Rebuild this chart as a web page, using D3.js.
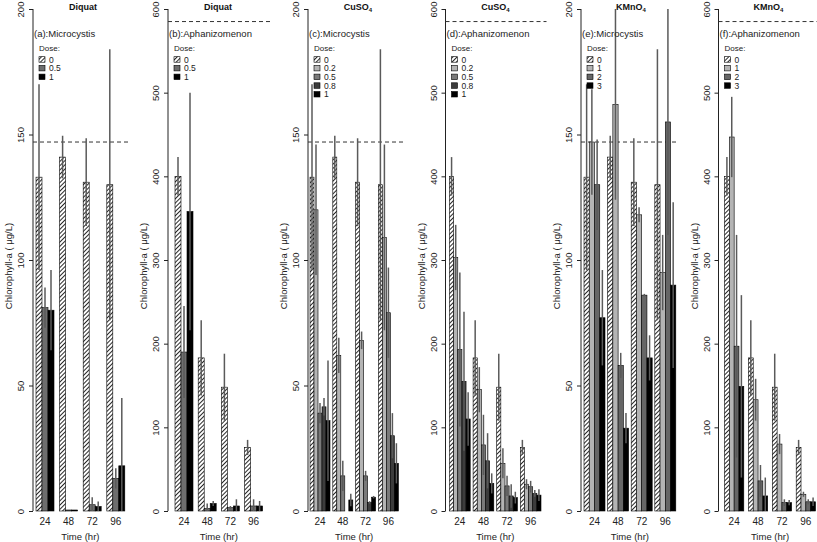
<!DOCTYPE html>
<html><head><meta charset="utf-8">
<script src="https://cdn.jsdelivr.net/npm/d3@7"></script>
<style>
html,body{margin:0;padding:0;background:#fff;}
svg{display:block;font-family:"Liberation Sans",Arial,sans-serif;}
</style></head>
<body>
<svg id="chart" width="817" height="542"></svg>
<script>
// ---------------- DATA ----------------
const times = ["24", "48", "72", "96"];
const dosesDiquat = ["0", "0.5", "1"];
const dosesCuSO4 = ["0", "0.2", "0.5", "0.8", "1"];
const dosesKMnO4 = ["0", "1", "2", "3"];

const microTicks = [0, 50, 100, 150, 200];
const aphTicks = [0, 100, 200, 300, 400, 500, 600];
const microInitial = 147;
const aphInitial = 585;

// rows = doses, columns = times
const diquatMicro = [[133, 141, 131, 130], [81, 0.4, 2.5, 13], [80, 0.4, 1.8, 18]];
const diquatMicroSd = [[37, 8.5, 17.5, 54], [8, 0, 3, 4], [16, 0, 2, 27]];

const diquatAph = [[400, 183, 148, 76], [190, 3, 4, 6], [358, 9, 6, 6]];
const diquatAphSd = [[23, 45, 40, 9], [55, 6, 2, 8], [142, 3, 8, 6]];

const cuMicro = [[133, 141, 131, 130], [120, 62, 68, 109], [39, 14, 14, 79], [41.5, 0, 3.4, 30], [36, 4.4, 5.5, 19]];
const cuMicroSd = [[37, 8.5, 17.5, 54], [26, 7, 3.5, 37], [4, 6, 2, 18], [3.5, 0, 0.5, 9], [24, 2.5, 0.5, 8]];

const cuAph = [[400, 183, 148, 76], [303, 145, 57, 32], [193, 79, 30, 29], [155, 60, 18, 21], [110, 33, 16, 19]];
const cuAphSd = [[23, 45, 40, 9], [39, 27, 18, 6], [92, 36, 12, 7], [83, 33, 14, 4], [32, 12, 7, 7]];

const kmMicro = [[133, 141, 131, 130], [147, 162, 118, 95], [130, 58, 86, 155], [77, 33, 61, 90]];
const kmMicroSd = [[37, 8.5, 17.5, 54], [21, 38, 3, 15], [18, 5, 0.5, 45], [19, 6, 9, 33]];

const kmAph = [[400, 183, 148, 76], [447, 133, 80, 20], [197, 36, 10, 11], [149, 18, 10, 11]];
const kmAphSd = [[23, 45, 40, 9], [48, 25, 12, 3], [133, 19, 4, 3], [109, 22, 3, 5]];

const greysDiquat = ["hatch", "#6e6e6e", "#000000"];
const greysCuSO4 = ["hatch", "#b4b4b4", "#7a7a7a", "#3c3c3c", "#000000"];
const greysKMnO4 = ["hatch", "#b4b4b4", "#666666", "#000000"];

// ---------------- PANELS ----------------
const panels = [
  {title: "Diquat", sub: null, label: "(a):Microcystis", doses: dosesDiquat, vals: diquatMicro, sds: diquatMicroSd, fills: greysDiquat, max: 200, ticks: microTicks, init: microInitial,
   axisX: 33, start: 3, step: 23.6, gw: 18, dashEnd: 95},
  {title: "Diquat", sub: null, label: "(b):Aphanizomenon", doses: dosesDiquat, vals: diquatAph, sds: diquatAphSd, fills: greysDiquat, max: 600, ticks: aphTicks, init: aphInitial,
   axisX: 168, start: 7, step: 23.2, gw: 18, dashEnd: 104},
  {title: "CuSO", sub: "4", label: "(c):Microcystis", doses: dosesCuSO4, vals: cuMicro, sds: cuMicroSd, fills: greysCuSO4, max: 200, ticks: microTicks, init: microInitial,
   axisX: 308, start: 2, step: 22.8, gw: 20, dashEnd: 96},
  {title: "CuSO", sub: "4", label: "(d):Aphanizomenon", doses: dosesCuSO4, vals: cuAph, sds: cuAphSd, fills: greysCuSO4, max: 600, ticks: aphTicks, init: aphInitial,
   axisX: 445.5, start: 4, step: 23.6, gw: 20.7, dashEnd: 101},
  {title: "KMnO", sub: "4", label: "(e):Microcystis", doses: dosesKMnO4, vals: kmMicro, sds: kmMicroSd, fills: greysKMnO4, max: 200, ticks: microTicks, init: microInitial,
   axisX: 581, start: 3, step: 23.6, gw: 21, dashEnd: 98},
  {title: "KMnO", sub: "4", label: "(f):Aphanizomenon", doses: dosesKMnO4, vals: kmAph, sds: kmAphSd, fills: greysKMnO4, max: 600, ticks: aphTicks, init: aphInitial,
   axisX: 718.5, start: 6, step: 23.9, gw: 19.3, dashEnd: 99}
];

const svg = d3.select("#chart");
const defs = svg.append("defs");
const pat = defs.append("pattern").attr("id", "hatch").attr("patternUnits", "userSpaceOnUse")
  .attr("width", 3).attr("height", 3).attr("patternTransform", "rotate(45)");
pat.append("rect").attr("width", 3).attr("height", 3).attr("fill", "#fff");
pat.append("line").attr("x1", 0.5).attr("y1", 0).attr("x2", 0.5).attr("y2", 3)
  .attr("stroke", "#111").attr("stroke-width", 0.9);

const yBottom = 511, yTop = 9;
const fs = 9.5;

function fillOf(f) { return f === "hatch" ? "url(#hatch)" : f; }

panels.forEach(p => {
  const g = svg.append("g");
  const y = d3.scaleLinear().domain([0, p.max]).range([yBottom, yTop]);
  const x0 = p.axisX + p.start;
  const xGroup = d3.scaleBand().domain(times)
    .range([x0, x0 + p.step * 3 + p.gw]).paddingInner((p.step - p.gw) / p.step).paddingOuter(0);
  const xBar = d3.scaleBand().domain(p.doses).range([0, xGroup.bandwidth()]).padding(0);

  // y axis
  const ax = g.append("g").attr("transform", `translate(${p.axisX},0)`)
    .call(d3.axisLeft(y).tickValues(p.ticks).tickSize(4).tickFormat(d3.format("d")));
  ax.select(".domain").attr("d", `M0,${y(0)}V${y(p.max)}`).attr("stroke", "#222");
  ax.selectAll(".tick line").attr("stroke", "#222");
  ax.selectAll(".tick text").attr("font-size", fs).attr("fill", "#222")
    .attr("text-anchor", "middle").attr("dy", null).attr("x", 0).attr("y", 0)
    .attr("transform", "translate(-9,0) rotate(-90)");

  // y label
  g.append("text").attr("transform", `translate(${p.axisX - 21},${(yBottom + yTop) / 2 + 6}) rotate(-90)`)
    .attr("text-anchor", "middle").attr("font-size", fs).attr("fill", "#222")
    .text("Chlorophyll-a ( μg/L)");

  // dashed initial level
  g.append("line").attr("x1", p.axisX).attr("x2", p.axisX + p.dashEnd)
    .attr("y1", y(p.init)).attr("y2", y(p.init))
    .attr("stroke", "#333").attr("stroke-width", 1).attr("stroke-dasharray", "4,3");

  // bars
  times.forEach((t, ti) => {
    p.doses.forEach((d, di) => {
      const v = p.vals[di][ti];
      const bx = xGroup(t) + xBar(d);
      g.append("rect").attr("x", bx).attr("y", y(v)).attr("width", xBar.bandwidth())
        .attr("height", Math.max(0, y(0) - y(v)))
        .attr("fill", fillOf(p.fills[di])).attr("stroke", "#000").attr("stroke-width", 0.6);
    });
  });
  // error bars
  times.forEach((t, ti) => {
    p.doses.forEach((d, di) => {
      const v = p.vals[di][ti], s = p.sds[di][ti];
      if (s <= 0) return;
      const cx = xGroup(t) + xBar(d) + xBar.bandwidth() / 2;
      g.append("line").attr("x1", cx).attr("x2", cx)
        .attr("y1", y(Math.max(0, v - s))).attr("y2", y(Math.min(p.max, v + s)))
        .attr("stroke", "#5a5a5a").attr("stroke-width", 1.5);
    });
  });

  // x tick labels
  times.forEach(t => {
    g.append("text").attr("x", xGroup(t) + xGroup.bandwidth() / 2).attr("y", 525)
      .attr("text-anchor", "middle").attr("font-size", fs + 0.5).attr("fill", "#222").text(t);
  });
  g.append("text").attr("x", x0 + (p.step * 3 + p.gw) / 2).attr("y", 540)
    .attr("text-anchor", "middle").attr("font-size", fs).attr("fill", "#222").text("Time (hr)");

  // title
  const tt = g.append("text").attr("x", p.axisX + 50).attr("y", 9.5)
    .attr("text-anchor", "middle").attr("font-size", 9).attr("font-weight", "bold").attr("fill", "#111");
  tt.append("tspan").text(p.title);
  if (p.sub) tt.append("tspan").attr("font-size", 6).attr("dy", 2).text(p.sub);

  // panel label
  g.append("text").attr("x", p.axisX + 1).attr("y", 37).attr("font-size", fs).attr("fill", "#222").text(p.label);

  // legend
  g.append("text").attr("x", p.axisX + 6).attr("y", 51).attr("font-size", 8).attr("fill", "#222").text("Dose:");
  p.doses.forEach((d, di) => {
    const ly = 59.5 + di * 8.7;
    g.append("rect").attr("x", p.axisX + 6).attr("y", ly - 2.8).attr("width", 6).attr("height", 5.5)
      .attr("fill", fillOf(p.fills[di])).attr("stroke", "#000").attr("stroke-width", 0.6);
    g.append("text").attr("x", p.axisX + 16).attr("y", ly + 3).attr("font-size", 8.5).attr("fill", "#222").text(d);
  });
});
</script>
</body></html>
